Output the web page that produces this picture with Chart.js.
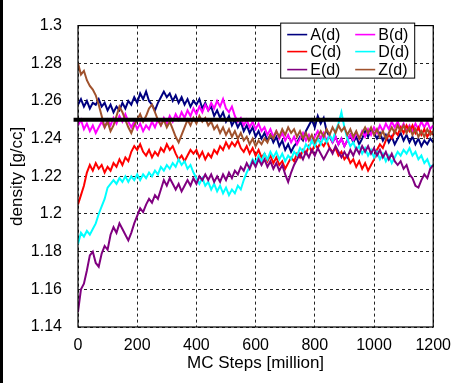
<!DOCTYPE html>
<html><head><meta charset="utf-8">
<style>html,body{margin:0;padding:0;background:#fff;}#wrap{width:460px;height:383px;}</style>
<script src="https://cdn.jsdelivr.net/npm/chart.js@4/dist/chart.umd.min.js"></script>
</head><body><div id="wrap"><canvas id="c" width="460" height="383"></canvas></div>
<script>
const steps = Array.from({length: 121}, (_, i) => i * 10);
const seriesLabels = ['A(d)', 'B(d)', 'C(d)', 'D(d)', 'E(d)', 'Z(d)'];
const seriesA = [1.258,1.261,1.257,1.260,1.256,1.259,1.258,1.261,1.257,1.259,
 1.255,1.258,1.254,1.257,1.255,1.259,1.256,1.260,1.258,1.262,
 1.259,1.264,1.261,1.265,1.260,1.258,1.255,1.259,1.262,1.265,
 1.262,1.264,1.260,1.263,1.259,1.262,1.258,1.261,1.257,1.260,
 1.258,1.261,1.256,1.259,1.255,1.257,1.252,1.255,1.251,1.254,
 1.249,1.252,1.247,1.250,1.246,1.249,1.244,1.247,1.243,1.246,
 1.241,1.244,1.240,1.243,1.239,1.242,1.238,1.241,1.236,1.239,
 1.234,1.237,1.233,1.236,1.238,1.241,1.239,1.244,1.247,1.250,
 1.246,1.252,1.248,1.251,1.244,1.241,1.238,1.241,1.237,1.240,
 1.236,1.239,1.242,1.238,1.241,1.237,1.240,1.244,1.241,1.245,
 1.243,1.240,1.243,1.239,1.242,1.238,1.241,1.237,1.240,1.243,
 1.239,1.242,1.238,1.241,1.237,1.240,1.236,1.239,1.237,1.240,
 1.238];
const seriesB = [1.247,1.250,1.245,1.248,1.244,1.247,1.243,1.246,1.249,1.246,
 1.250,1.247,1.251,1.248,1.252,1.249,1.253,1.249,1.246,1.249,
 1.245,1.248,1.244,1.247,1.245,1.249,1.246,1.250,1.247,1.251,
 1.248,1.252,1.249,1.253,1.250,1.254,1.251,1.255,1.252,1.256,
 1.253,1.257,1.254,1.258,1.255,1.259,1.256,1.260,1.257,1.261,
 1.256,1.254,1.257,1.252,1.249,1.251,1.247,1.250,1.246,1.249,
 1.245,1.248,1.244,1.246,1.242,1.245,1.241,1.244,1.240,1.243,
 1.239,1.242,1.238,1.241,1.237,1.240,1.243,1.239,1.242,1.238,
 1.241,1.244,1.240,1.243,1.239,1.242,1.238,1.241,1.237,1.240,
 1.236,1.239,1.242,1.239,1.243,1.240,1.244,1.241,1.245,1.242,
 1.246,1.243,1.247,1.244,1.248,1.245,1.249,1.246,1.249,1.245,
 1.248,1.244,1.247,1.244,1.248,1.245,1.249,1.246,1.249,1.245,
 1.247];
const seriesC = [1.205,1.210,1.215,1.222,1.226,1.223,1.227,1.224,1.226,1.222,
 1.225,1.223,1.227,1.225,1.229,1.226,1.230,1.228,1.233,1.236,
 1.234,1.237,1.233,1.231,1.234,1.230,1.233,1.231,1.235,1.233,
 1.237,1.234,1.236,1.232,1.229,1.231,1.228,1.231,1.234,1.232,
 1.234,1.230,1.233,1.229,1.232,1.230,1.234,1.232,1.236,1.234,
 1.238,1.235,1.238,1.236,1.239,1.235,1.233,1.236,1.232,1.235,
 1.231,1.234,1.230,1.232,1.228,1.231,1.227,1.230,1.226,1.228,
 1.224,1.227,1.230,1.228,1.232,1.230,1.234,1.232,1.236,1.233,
 1.237,1.235,1.238,1.236,1.239,1.235,1.233,1.235,1.231,1.233,
 1.229,1.231,1.227,1.229,1.225,1.228,1.224,1.227,1.223,1.226,
 1.229,1.234,1.237,1.235,1.239,1.242,1.240,1.244,1.242,1.246,
 1.243,1.247,1.244,1.247,1.243,1.246,1.242,1.245,1.241,1.244,
 1.242];
const seriesD = [1.184,1.190,1.188,1.191,1.189,1.192,1.195,1.200,1.204,1.208,
 1.214,1.216,1.218,1.216,1.219,1.217,1.220,1.217,1.220,1.218,
 1.221,1.218,1.221,1.219,1.222,1.220,1.223,1.221,1.225,1.223,
 1.226,1.224,1.227,1.225,1.229,1.226,1.228,1.224,1.226,1.222,
 1.219,1.216,1.219,1.215,1.217,1.213,1.216,1.212,1.215,1.211,
 1.214,1.210,1.213,1.211,1.215,1.213,1.218,1.222,1.225,1.229,
 1.227,1.231,1.228,1.232,1.229,1.233,1.230,1.233,1.229,1.232,
 1.228,1.231,1.229,1.233,1.231,1.235,1.233,1.237,1.235,1.239,
 1.236,1.240,1.237,1.241,1.238,1.242,1.239,1.244,1.248,1.254,
 1.246,1.240,1.236,1.238,1.234,1.236,1.232,1.235,1.231,1.234,
 1.230,1.233,1.229,1.232,1.228,1.231,1.227,1.230,1.233,1.231,
 1.234,1.232,1.235,1.231,1.233,1.229,1.231,1.227,1.229,1.225,
 1.226];
const seriesE = [1.148,1.160,1.163,1.170,1.178,1.180,1.174,1.172,1.179,1.183,
 1.181,1.189,1.193,1.190,1.195,1.192,1.189,1.186,1.190,1.195,
 1.199,1.203,1.201,1.205,1.208,1.206,1.210,1.208,1.213,1.218,
 1.215,1.219,1.216,1.213,1.216,1.212,1.215,1.218,1.215,1.219,
 1.216,1.220,1.218,1.221,1.218,1.221,1.217,1.220,1.217,1.221,
 1.218,1.222,1.219,1.223,1.221,1.225,1.223,1.227,1.224,1.228,
 1.225,1.229,1.226,1.229,1.225,1.228,1.224,1.227,1.223,1.226,
 1.221,1.217,1.222,1.226,1.229,1.232,1.229,1.233,1.230,1.234,
 1.231,1.235,1.232,1.229,1.232,1.235,1.232,1.236,1.233,1.230,
 1.233,1.230,1.234,1.231,1.235,1.232,1.236,1.233,1.236,1.232,
 1.235,1.231,1.234,1.230,1.233,1.229,1.232,1.228,1.226,1.228,
 1.224,1.226,1.221,1.219,1.215,1.214,1.218,1.221,1.219,1.224,
 1.226];
const seriesZ = [1.280,1.274,1.276,1.271,1.268,1.266,1.263,1.258,1.252,1.246,
 1.249,1.244,1.247,1.252,1.257,1.254,1.250,1.246,1.243,1.247,
 1.250,1.253,1.249,1.252,1.256,1.258,1.254,1.250,1.247,1.250,
 1.246,1.249,1.245,1.241,1.238,1.242,1.246,1.250,1.247,1.251,
 1.248,1.252,1.249,1.251,1.247,1.249,1.245,1.247,1.243,1.246,
 1.242,1.245,1.241,1.244,1.240,1.243,1.239,1.241,1.237,1.240,
 1.236,1.239,1.237,1.240,1.238,1.242,1.240,1.244,1.241,1.245,
 1.242,1.246,1.243,1.245,1.241,1.244,1.240,1.243,1.239,1.242,
 1.238,1.241,1.244,1.241,1.245,1.242,1.246,1.243,1.247,1.244,
 1.246,1.242,1.245,1.241,1.244,1.240,1.243,1.246,1.243,1.246,
 1.242,1.245,1.241,1.244,1.240,1.243,1.246,1.243,1.247,1.244,
 1.247,1.243,1.246,1.242,1.245,1.241,1.244,1.241,1.245,1.242,
 1.244];
const refX = [-15, 1200];
const refY = [1.25, 1.25];
const xTicks = [0, 200, 400, 600, 800, 1000, 1200];
const yTicks = [1.14, 1.16, 1.18, 1.2, 1.22, 1.24, 1.26, 1.28, 1.3];
const seriesColors = ['#000080', '#ff00ff', '#ff0000', '#00ffff', '#800080', '#a0522d'];

const allSeries = [seriesA, seriesB, seriesC, seriesD, seriesE, seriesZ];
const toPts = arr => arr.map((v, i) => ({x: steps[i], y: v}));
const FONT = '"Liberation Sans", Arial, sans-serif';
Chart.defaults.font.family = FONT;
Chart.defaults.color = '#000';

const datasets = [{
  label: 'ref', data: refX.map((x, i) => ({x, y: refY[i]})),
  borderColor: '#000', borderWidth: 4, pointRadius: 0, order: 0, clip: false
}];
allSeries.forEach((s, k) => datasets.push({
  label: seriesLabels[k], data: toPts(s), borderColor: seriesColors[k],
  borderWidth: 2, pointRadius: 0, tension: 0, order: 6 - k
}));

const decor = {
  id: 'decor',
  beforeDraw(chart) {
    const ctx = chart.ctx;
    ctx.save();
    ctx.fillStyle = '#fff'; ctx.fillRect(0, 0, chart.width, chart.height);
    ctx.fillStyle = '#000'; ctx.fillRect(0, 0, 3, chart.height);
    ctx.restore();
  },
  afterDraw(chart) {
    const {ctx, chartArea: a} = chart;
    ctx.save();
    ctx.strokeStyle = '#000'; ctx.lineWidth = 1.2;
    ctx.strokeRect(a.left, a.top, a.right - a.left, a.bottom - a.top);
    const bx = a.right - 153, by = a.top - 3, bw = 134, bh = 55;
    ctx.fillStyle = '#fff'; ctx.fillRect(bx, by, bw, bh);
    ctx.lineWidth = 1; ctx.strokeStyle = '#000';
    ctx.strokeRect(bx + 0.5, by + 0.5, bw, bh);
    ctx.font = '16px ' + FONT; ctx.textBaseline = 'middle'; ctx.textAlign = 'left';
    const rows = [12, 29, 47];
    chart.data.datasets.filter(d => seriesLabels.includes(d.label)).forEach((d, i) => {
      const col = i % 2, row = Math.floor(i / 2);
      const lx = bx + (col ? 75 : 7), y = by + rows[row];
      ctx.strokeStyle = d.borderColor; ctx.lineWidth = 1.6;
      ctx.beginPath(); ctx.moveTo(lx, y); ctx.lineTo(lx + 20, y); ctx.stroke();
      ctx.fillStyle = '#000'; ctx.fillText(d.label, lx + 23, y + 1);
    });
    ctx.restore();
  }
};

new Chart(document.getElementById('c'), {
  type: 'line',
  data: {datasets},
  options: {
    responsive: false, animation: false, devicePixelRatio: 1,
    layout: {padding: {left: 0, right: 20, top: 17, bottom: 0}},
    plugins: {legend: {display: false}, tooltip: {enabled: false}},
    scales: {
      x: {
        type: 'linear', min: 0, max: 1200,
        afterBuildTicks: s => { s.ticks = xTicks.map(v => ({value: v})); },
        afterFit: s => { s.height = 56; },
        ticks: {font: {size: 16}, padding: 9, maxRotation: 0, autoSkip: false, color: '#000', callback: v => String(v)},
        grid: {color: '#222', lineWidth: 1, drawTicks: false},
        border: {display: false, dash: [3, 3]},
        title: {display: true, text: 'MC Steps [million]', font: {size: 17}, color: '#000', padding: {top: 0, bottom: 9}}
      },
      y: {
        type: 'linear', min: 1.14, max: 1.3,
        afterBuildTicks: s => { s.ticks = yTicks.map(v => ({value: v})); },
        afterFit: s => { s.width = 78; },
        ticks: {font: {size: 16}, padding: 16, color: '#000', callback: v => String(+v.toFixed(2))},
        grid: {color: '#222', lineWidth: 1, drawTicks: false},
        border: {display: false, dash: [3, 3]},
        title: {display: true, text: 'density [g/cc]', font: {size: 17}, color: '#000', padding: {top: 7, bottom: 0}}
      }
    }
  },
  plugins: [decor]
});
</script></body></html>
